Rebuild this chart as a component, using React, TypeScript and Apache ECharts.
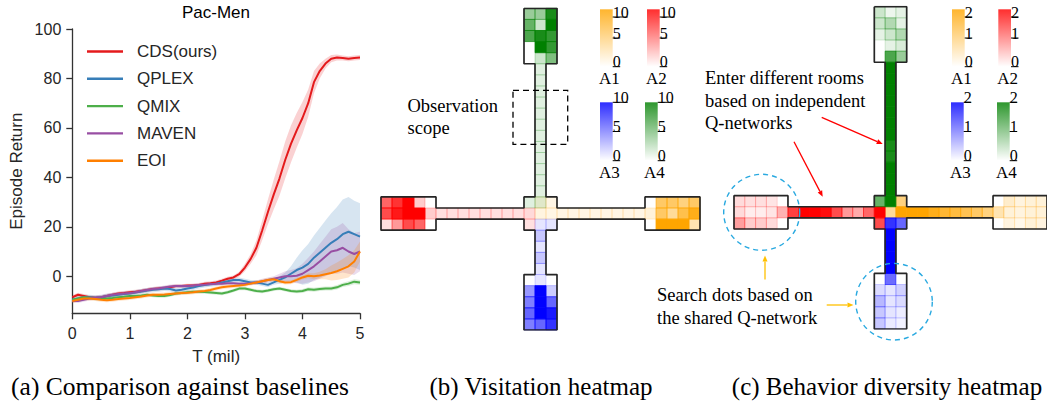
import React, { useEffect, useRef } from "react";
import * as echarts from "echarts";

// ---------------- (a) learning curves ----------------
const T_MIL = [0,0.1,0.2,0.3,0.4,0.5,0.6,0.7,0.8,0.9,1,1.1,1.2,1.3,1.4,1.5,1.6,1.7,1.8,1.9,2,2.1,2.2,2.3,2.4,2.5,2.6,2.7,2.8,2.9,3,3.1,3.2,3.3,3.4,3.5,3.6,3.7,3.8,3.9,4,4.1,4.2,4.3,4.4,4.5,4.6,4.7,4.8,4.9,5];
const METHODS = ["CDS(ours)", "QPLEX", "QMIX", "MAVEN", "EOI"];
const METHOD_COLORS = ["#e41a1c", "#377eb8", "#4daf4a", "#984ea3", "#ff7f00"];

const CDS = [-8.5,-7.5,-8,-8.5,-8.7,-8.5,-8,-7.5,-7,-6.8,-6.5,-6.3,-6,-5.6,-5.2,-5,-4.8,-4.5,-4,-4,-3.8,-3.8,-3.5,-3,-2.8,-2.5,-1.8,-1,-0.5,0.8,3.5,7,11.5,18.5,26,33,39.5,47,53.5,59,64,70,78.5,83,86,88,88.5,88.3,88,88.3,88.5];
const CDS_SPREAD = [0.8,0.8,0.8,0.8,0.8,0.8,0.8,0.8,0.8,0.8,0.8,0.8,0.8,0.8,0.8,0.8,0.8,0.8,0.8,0.8,0.8,0.8,0.8,0.8,0.8,0.8,0.8,0.8,0.8,1,1.5,2,3,4,5,6,7,7.5,7.5,7,6.5,5.5,4.5,3,2,1.5,1.2,1,1,1,1];
const QPLEX = [-9.5,-9,-8.5,-8.5,-8.7,-8.5,-8,-7.8,-7.5,-7.2,-7,-6.6,-6.2,-5.8,-5.5,-5.3,-5,-5.2,-5.8,-5.5,-5,-4.6,-4,-3.6,-3.3,-3,-2.5,-2,-1.5,-1.5,-2,-2.5,-2.5,-3,-3.5,-2.5,-1.5,-0.5,1,2.5,3.5,5,7.5,9.5,11.5,13.5,15,17,18,17,16];
const QPLEX_SPREAD = [1,1,1,1,1,1,1,1,1,1,1,1,1,1,1,1,1,1,1,1,1,1,1,1,1,1,1,1,1,1,1,1,1,1,1,1,1.5,2,3,5,7,8,9,10,11,12,13,14,14,13.5,13.5];
const QMIX = [-9.5,-9,-8.5,-8.7,-9,-9,-9,-8.8,-8.5,-8.3,-8,-8,-7.8,-7.5,-7.8,-8,-8,-7.6,-7,-6.8,-6.5,-6.3,-6.3,-6.4,-6.6,-6.8,-7,-6.5,-5.8,-5,-5,-5.5,-6,-6.2,-5.8,-5.3,-5,-5.5,-6,-6.2,-6,-5.3,-5.5,-5.2,-5,-5,-4.5,-3.5,-3,-2.2,-2.5];
const QMIX_SPREAD = [0.7,0.7,0.7,0.7,0.7,0.7,0.7,0.7,0.7,0.7,0.7,0.7,0.7,0.7,0.7,0.7,0.7,0.7,0.7,0.7,0.7,0.7,0.7,0.7,0.7,0.7,0.7,0.7,0.7,0.7,0.7,0.7,0.7,0.7,0.7,0.7,0.7,0.7,0.7,0.7,0.8,0.8,0.8,0.8,0.8,0.8,0.9,0.9,1,1,1];
const MAVEN = [-10,-10,-9.5,-9,-8.7,-8.5,-8,-7.5,-7.2,-7,-6.8,-6.5,-6,-5.6,-5.2,-5,-4.6,-4.2,-4,-4,-4,-3.8,-3.6,-3.4,-3.2,-3,-3,-2.8,-2.8,-3,-3,-2.8,-2.5,-2,-1.5,-1,-0.5,0,0,0.2,1,2.5,4,6,8,10,10.5,11.5,10,9,10];
const MAVEN_SPREAD = [0.8,0.8,0.8,0.8,0.8,0.8,0.8,0.8,0.8,0.8,0.8,0.8,0.8,0.8,0.8,0.8,0.8,0.8,0.8,0.8,0.8,0.8,0.8,0.8,0.8,0.8,0.8,0.8,0.8,0.8,0.8,0.8,0.8,1,1,1,1.5,2,2.5,3,4,5,6,7,8,9,9.5,10,9,8.5,8];
const EOI = [-10,-9.5,-9,-9,-9.2,-9.5,-9.7,-9.5,-9.2,-9,-8.8,-8.5,-8.2,-7.8,-7.5,-7.5,-7.4,-7.2,-7,-6.8,-6.7,-6.5,-6.2,-6,-5.6,-5,-4.5,-4.2,-4,-3.8,-3.5,-3,-2.5,-2,-1.5,-1.2,-2,-2.5,-2.4,-1.5,-0.5,0.2,0,0.3,0.8,1.3,2,3,4,6,10];
const EOI_SPREAD = [0.8,0.8,0.8,0.8,0.8,0.8,0.8,0.8,0.8,0.8,0.8,0.8,0.8,0.8,0.8,0.8,0.8,0.8,0.8,0.8,0.8,0.8,0.8,0.8,0.8,0.8,0.8,0.8,0.8,0.8,0.8,0.8,0.8,0.8,0.8,0.8,0.8,0.8,0.8,0.8,0.8,1,1.2,1.5,2,3,3.5,4,4.5,4.5,4];
const MEANS = [CDS, QPLEX, QMIX, MAVEN, EOI];
const SPREADS = [CDS_SPREAD, QPLEX_SPREAD, QMIX_SPREAD, MAVEN_SPREAD, EOI_SPREAD];
const Y_TICKS = [0, 20, 40, 60, 80, 100];

// ---------------- heatmap maps (grid cells: [col,row]) ----------------
const MAP_OUTLINE = [[13,0],[16,0],[16,5],[15,5],[15,17],[16,17],[16,18],[24,18],[24,17],[29,17],[29,20],[24,20],[24,19],[16,19],[16,20],[15,20],[15,24],[16,24],[16,29],[13,29],[13,24],[14,24],[14,20],[13,20],[13,19],[5,19],[5,20],[0,20],[0,17],[5,17],[5,18],[13,18],[13,17],[14,17],[14,5],[13,5],[13,0]];
const ORIGIN_TOP: [number, number] = [13, 0];
const ORIGIN_TOP_CORRIDOR: [number, number] = [14, 5];
const ORIGIN_CENTER: [number, number] = [13, 17];
const ORIGIN_LEFT: [number, number] = [0, 17];
const ORIGIN_LEFT_CORRIDOR: [number, number] = [5, 18];
const ORIGIN_RIGHT: [number, number] = [24, 17];
const ORIGIN_RIGHT_CORRIDOR: [number, number] = [16, 18];
const ORIGIN_BOTTOM_CORRIDOR: [number, number] = [14, 20];
const ORIGIN_BOTTOM: [number, number] = [13, 24];

const AGENTS = ["A1", "A2", "A3", "A4"];

// (b) Visitation heatmap, scale 0-10
const B_TICKS = [0, 5, 10];
const B_A1_RIGHT = [[0,6,6,5,6],[1.5,6,4,7,9],[0,10,10,10,3]];
const B_A1_CORRIDOR = [1,1,1,1,1,1,1,1];
const B_A1_CENTER = [[0,1,1],[0,1.2,1],[0,0,0]];
const B_A2_LEFT = [[6,8,10,2,0],[7,9,10,10,2],[1.2,4,7,6,0]];
const B_A2_CORRIDOR = [1.2,1.2,1.2,1.2,1.2,1.2,1.2,1.2];
const B_A2_CENTER = [[0,0,0],[1.5,0,0],[1.2,0,0]];
const B_A3_BOTTOM = [[0,1,0],[4,10,2],[5,10,6],[6,10,9],[5,6,8]];
const B_A3_CORRIDOR = [2.2,1,2.2,1];
const B_A3_CENTER = [[0,0,0],[0,0,0],[0,1,1]];
const B_A4_TOP = [[4,4,9],[6,2,10],[7,9,8],[0,10,8],[0,2,5]];
const B_A4_CORRIDOR = [1.2,1.2,1.2,1.2,1.2,1.2,1.2,1.2,1.2,1.2,1.2,1.2];
const B_A4_CENTER = [[1.2,1.2,0],[0,0,0],[0,0,0]];

// (c) Behavior diversity heatmap, scale 0-2
const C_TICKS = [0, 1, 2];
const C_A1_RIGHT = [[0,0.4,0.24,0.3,0.3],[0.6,0.3,0.24,0.3,0.3],[0,0.24,0.16,0.3,0.24]];
const C_A1_CORRIDOR = [2,2,1.8,1.6,1.5,1.35,1.2,1];
const C_A1_CENTER = [[0,0,1],[0,0.8,2],[0,0,0]];
const C_A2_LEFT = [[0.28,0.25,0.25,0.2,0],[0.28,0.14,0.14,0.2,0.6],[0.75,0.4,0.4,0.28,0]];
const C_A2_CORRIDOR = [1.5,2,2,1.9,1.4,0.8,0.67,1.2];
const C_A2_CENTER = [[0,0,0],[2,0,0],[1.4,0,0]];
const C_A3_BOTTOM = [[0,1.15,0],[0.28,0.2,0.36],[0.56,0.2,0.28],[0.44,0.2,0.14],[0.44,0.16,0.1]];
const C_A3_CORRIDOR = [2,2,2,2];
const C_A3_CENTER = [[0,0,0],[0,0,0],[0,1.6,1.2]];
const C_A4_TOP = [[0.4,0.14,0.2],[0.4,0.6,0.2],[0.2,0.4,0.6],[0,0.2,0.3],[0,1.4,0.8]];
const C_A4_CORRIDOR = [2,2,2,2,2,2,2,1.8,1.8,2,2,2];
const C_A4_CENTER = [[1.2,2,0],[0,0,0],[0,0,0]];

// ---------------- helpers ----------------
const SANS = '"Liberation Sans", Arial, sans-serif';
const SERIF = '"Liberation Serif", "Times New Roman", serif';
const AGENT_RGB = ["255,165,0", "255,0,0", "0,0,255", "0,128,0"];

function cells(origin: [number, number], matrix: number[][]) {
  const out: number[][] = [];
  matrix.forEach((row, r) =>
    row.forEach((v, c) => {
      if (v > 0) out.push([origin[0] + c, origin[1] + r, v]);
    })
  );
  return out;
}
const vert = (a: number[]) => a.map((v) => [v]);
const horiz = (a: number[]) => [a];

function heatSeries(axis: number, rgb: string, vmax: number, data: number[][]) {
  return {
    type: "custom",
    xAxisIndex: axis,
    yAxisIndex: axis,
    data,
    silent: true,
    z: 2,
    encode: { x: 0, y: 1 },
    renderItem: (_params: any, api: any) => {
      const c = api.value(0);
      const r = api.value(1);
      const v = api.value(2);
      const p0 = api.coord([c, r]);
      const p1 = api.coord([c + 1, r + 1]);
      const a = Math.min(1, v / vmax);
      return {
        type: "rect",
        shape: { x: p0[0], y: p0[1], width: p1[0] - p0[0], height: p1[1] - p0[1] },
        style: {
          fill: `rgba(${rgb},${a})`,
          stroke: `rgba(${rgb},${Math.min(1, a + 0.08)})`,
          lineWidth: 0.8,
        },
      };
    },
  };
}

function bandSeries(k: number) {
  const mean = MEANS[k];
  const sp = SPREADS[k];
  return {
    type: "custom",
    xAxisIndex: 0,
    yAxisIndex: 0,
    silent: true,
    z: 1,
    data: T_MIL.map((t, i) => [t, mean[i] - sp[i], mean[i] + sp[i]]),
    encode: { x: 0, y: [1, 2] },
    renderItem: (params: any, api: any) => {
      if (params.dataIndex !== 0) return null;
      const upper = T_MIL.map((t, i) => api.coord([t, mean[i] + sp[i]]));
      const lower = T_MIL.map((t, i) => api.coord([t, mean[i] - sp[i]])).reverse();
      return {
        type: "polygon",
        shape: { points: [...upper, ...lower] },
        style: { fill: METHOD_COLORS[k], opacity: 0.2 },
      };
    },
  };
}

function arrow(x1: number, y1: number, x2: number, y2: number, color: string, head = 6) {
  const ang = Math.atan2(y2 - y1, x2 - x1);
  const hx = x2 - head * Math.cos(ang);
  const hy = y2 - head * Math.sin(ang);
  const w = head * 0.42;
  const px = -Math.sin(ang) * w;
  const py = Math.cos(ang) * w;
  return [
    { type: "line", z: 100, shape: { x1, y1, x2: hx, y2: hy }, style: { stroke: color, lineWidth: 1.3 } },
    {
      type: "polygon",
      z: 100,
      shape: { points: [[x2, y2], [hx + px, hy + py], [hx - px, hy - py]] },
      style: { fill: color },
    },
  ];
}

function colorbar(x: number, y: number, w: number, h: number, rgb: string, ticks: number[], label: string) {
  const els: any[] = [];
  els.push({
    type: "rect",
    z: 100,
    shape: { x, y, width: w, height: h },
    style: {
      fill: {
        type: "linear", x: 0, y: 0, x2: 0, y2: 1,
        colorStops: [
          { offset: 0, color: `rgba(${rgb},0.82)` },
          { offset: 1, color: `rgba(${rgb},0.0)` },
        ],
      },
    },
  });
  const max = ticks[ticks.length - 1];
  ticks.forEach((t) => {
    const ty = y + h - (t / max) * h;
    const txt = String(t);
    const len = txt.length * 7.5;
    // keep the label inside the page: the topmost label would be clipped at the edge
    const lineY = Math.max(ty, 17);
    els.push({ type: "line", z: 100, shape: { x1: x + w, y1: lineY, x2: x + w + len, y2: lineY }, style: { stroke: "#000", lineWidth: 1 } });
    els.push({
      type: "text", z: 100, x: x + w, y: lineY + 3,
      style: { text: txt, font: `16px ${SERIF}`, fill: "#000", align: "left", verticalAlign: "bottom" },
    });
  });
  els.push({
    type: "text", z: 100, x: x - 1, y: y + h + 12,
    style: { text: label, font: `17px ${SERIF}`, fill: "#000", align: "left", verticalAlign: "middle" },
  });
  return els;
}

function textEl(x: number, y: number, text: string, font: string, align = "left") {
  return {
    type: "text", z: 100, x, y,
    style: { text, font, fill: "#000", align, verticalAlign: "middle", lineHeight: 22.6 },
  };
}

function buildOption() {
  const series: any[] = [];

  // ---- (a) bands and lines ----
  METHODS.forEach((_m, k) => series.push(bandSeries(k)));
  METHODS.forEach((m, k) => {
    series.push({
      type: "line", name: m, xAxisIndex: 0, yAxisIndex: 0,
      data: T_MIL.map((t, i) => [t, MEANS[k][i]]), symbol: "none", silent: true,
      color: METHOD_COLORS[k],
      lineStyle: { color: METHOD_COLORS[k], width: 2 }, z: 3,
    });
  });

  // ---- (b) / (c) heatmaps ----
  const bData = [
    [...cells(ORIGIN_RIGHT, B_A1_RIGHT), ...cells(ORIGIN_RIGHT_CORRIDOR, horiz(B_A1_CORRIDOR)), ...cells(ORIGIN_CENTER, B_A1_CENTER)],
    [...cells(ORIGIN_LEFT, B_A2_LEFT), ...cells(ORIGIN_LEFT_CORRIDOR, horiz(B_A2_CORRIDOR)), ...cells(ORIGIN_CENTER, B_A2_CENTER)],
    [...cells(ORIGIN_BOTTOM, B_A3_BOTTOM), ...cells(ORIGIN_BOTTOM_CORRIDOR, vert(B_A3_CORRIDOR)), ...cells(ORIGIN_CENTER, B_A3_CENTER)],
    [...cells(ORIGIN_TOP, B_A4_TOP), ...cells(ORIGIN_TOP_CORRIDOR, vert(B_A4_CORRIDOR)), ...cells(ORIGIN_CENTER, B_A4_CENTER)],
  ];
  const cData = [
    [...cells(ORIGIN_RIGHT, C_A1_RIGHT), ...cells(ORIGIN_RIGHT_CORRIDOR, horiz(C_A1_CORRIDOR)), ...cells(ORIGIN_CENTER, C_A1_CENTER)],
    [...cells(ORIGIN_LEFT, C_A2_LEFT), ...cells(ORIGIN_LEFT_CORRIDOR, horiz(C_A2_CORRIDOR)), ...cells(ORIGIN_CENTER, C_A2_CENTER)],
    [...cells(ORIGIN_BOTTOM, C_A3_BOTTOM), ...cells(ORIGIN_BOTTOM_CORRIDOR, vert(C_A3_CORRIDOR)), ...cells(ORIGIN_CENTER, C_A3_CENTER)],
    [...cells(ORIGIN_TOP, C_A4_TOP), ...cells(ORIGIN_TOP_CORRIDOR, vert(C_A4_CORRIDOR)), ...cells(ORIGIN_CENTER, C_A4_CENTER)],
  ];
  const bMax = B_TICKS[B_TICKS.length - 1];
  const cMax = C_TICKS[C_TICKS.length - 1];
  bData.forEach((d, a) => series.push(heatSeries(1, AGENT_RGB[a], bMax, d)));
  cData.forEach((d, a) => series.push(heatSeries(2, AGENT_RGB[a], cMax, d)));
  [1, 2].forEach((ax) =>
    series.push({
      type: "line", xAxisIndex: ax, yAxisIndex: ax, data: MAP_OUTLINE, symbol: "none", silent: true,
      lineStyle: { color: "#262626", width: 1.7 }, z: 5,
    })
  );

  const axisStyle = { color: "#333", width: 1.3 };
  const labelStyle = { fontSize: 16, color: "#262626", fontFamily: SANS };
  const nameStyle = { fontSize: 17, color: "#262626", fontFamily: SANS };

  const graphic: any[] = [
    textEl(216, 12, "Pac-Men", `17px ${SANS}`, "center"),
    textEl(180, 386, "(a) Comparison against baselines", `25.5px ${SERIF}`, "center"),
    textEl(541, 386, "(b) Visitation heatmap", `25px ${SERIF}`, "center"),
    textEl(887, 386, "(c) Behavior diversity heatmap", `25px ${SERIF}`, "center"),
    textEl(407.5, 117, "Observation\nscope", `18.5px ${SERIF}`),
    {
      type: "rect", z: 100, shape: { x: 513, y: 90.3, width: 54.7, height: 54 },
      style: { fill: "none", stroke: "#000", lineWidth: 1.3, lineDash: [6, 4] },
    },
    textEl(705, 100.7, "Enter different rooms\nbased on independent\nQ-networks", `18.5px ${SERIF}`),
    textEl(657, 306.5, "Search dots based on\nthe shared Q-network", `18.5px ${SERIF}`),
    {
      type: "circle", z: 100, shape: { cx: 761.7, cy: 212.3, r: 38 },
      style: { fill: "none", stroke: "#29a9e0", lineWidth: 1.4, lineDash: [5, 4] },
    },
    {
      type: "circle", z: 100, shape: { cx: 894, cy: 301.7, r: 38.3 },
      style: { fill: "none", stroke: "#29a9e0", lineWidth: 1.4, lineDash: [5, 4] },
    },
    ...arrow(821.7, 117.3, 882.7, 144, "#ff0000"),
    ...arrow(794, 141.7, 822.7, 196.7, "#ff0000"),
    ...arrow(765, 279.5, 765, 255.5, "#ffc000"),
    ...arrow(826.7, 305, 853.5, 305, "#ffc000"),
    // colorbars (b)
    ...colorbar(600, 9.3, 12.7, 57.4, AGENT_RGB[0], B_TICKS, AGENTS[0]),
    ...colorbar(647, 9.3, 12.7, 57.4, AGENT_RGB[1], B_TICKS, AGENTS[1]),
    ...colorbar(600, 102.3, 12.7, 58.4, AGENT_RGB[2], B_TICKS, AGENTS[2]),
    ...colorbar(645, 102.3, 12.7, 58.4, AGENT_RGB[3], B_TICKS, AGENTS[3]),
    // colorbars (c)
    ...colorbar(952, 9.3, 12.7, 57.4, AGENT_RGB[0], C_TICKS, AGENTS[0]),
    ...colorbar(998.3, 9.3, 12.7, 57.4, AGENT_RGB[1], C_TICKS, AGENTS[1]),
    ...colorbar(951, 102.3, 12.7, 58.4, AGENT_RGB[2], C_TICKS, AGENTS[2]),
    ...colorbar(997, 102.3, 12.7, 58.4, AGENT_RGB[3], C_TICKS, AGENTS[3]),
  ];

  return {
    animation: false,
    backgroundColor: "#fff",
    grid: [
      { left: 72.3, top: 29, width: 287.7, height: 284.3 },
      { left: 381, top: 8.3, width: 319, height: 321.7 },
      { left: 734, top: 6.7, width: 319, height: 322.3 },
    ],
    xAxis: [
      {
        gridIndex: 0, type: "value", min: 0, max: 5, interval: 1,
        axisLine: { show: true, onZero: false, lineStyle: axisStyle },
        axisTick: { show: true, length: 6, lineStyle: axisStyle },
        axisLabel: { ...labelStyle, margin: 12 },
        splitLine: { show: false },
        name: "T (mil)", nameLocation: "middle", nameGap: 35, nameTextStyle: nameStyle,
      },
      { gridIndex: 1, type: "value", min: 0, max: 29, show: false },
      { gridIndex: 2, type: "value", min: 0, max: 29, show: false },
    ],
    yAxis: [
      {
        gridIndex: 0, type: "value", min: -15, max: 100,
        axisLine: { show: true, onZero: false, lineStyle: axisStyle },
        axisTick: { show: true, length: 6, lineStyle: axisStyle, customValues: Y_TICKS },
        axisLabel: { ...labelStyle, margin: 11, customValues: Y_TICKS },
        splitLine: { show: false },
        name: "Episode Return", nameLocation: "middle", nameGap: 47, nameTextStyle: nameStyle,
      },
      { gridIndex: 1, type: "value", min: 0, max: 29, inverse: true, show: false },
      { gridIndex: 2, type: "value", min: 0, max: 29, inverse: true, show: false },
    ],
    legend: {
      data: METHODS,
      orient: "vertical",
      icon: "rect",
      left: 87,
      top: 43,
      padding: 0,
      itemWidth: 36,
      itemHeight: 2.4,
      itemGap: 10.3,
      textStyle: { fontSize: 17, color: "#262626", fontFamily: SANS, lineHeight: 14, padding: [0, 0, 0, 9] },
    },
    series,
    graphic,
  };
}

export default function App() {
  const ref = useRef<HTMLDivElement>(null);
  useEffect(() => {
    if (!ref.current) return;
    const chart = echarts.init(ref.current, null, { renderer: "svg" });
    chart.setOption(buildOption() as any);
    return () => chart.dispose();
  }, []);
  return (
    <div
      ref={ref}
      style={{ position: "fixed", left: 0, top: 0, width: 1047, height: 408, background: "#fff" }}
    />
  );
}
